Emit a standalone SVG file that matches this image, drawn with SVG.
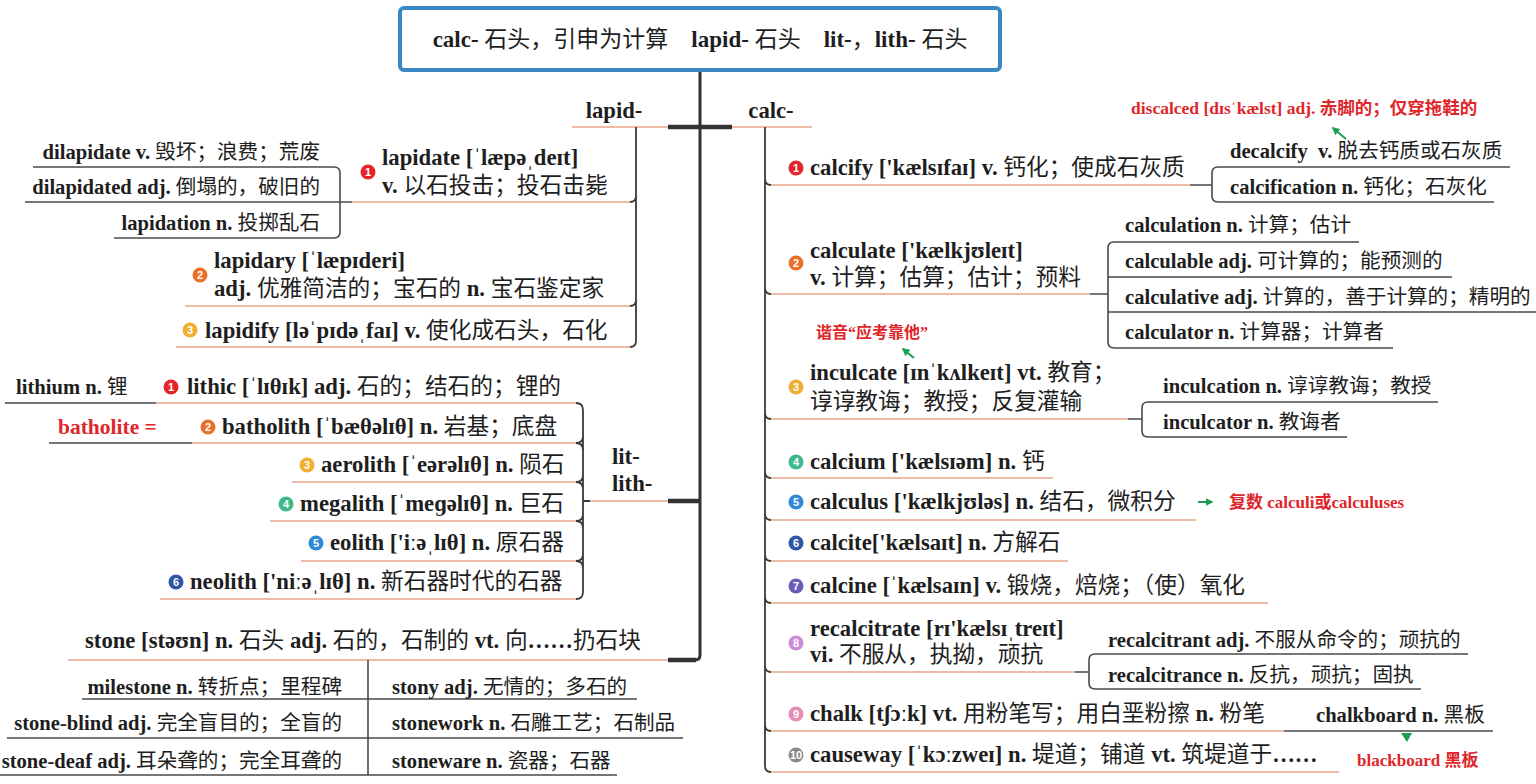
<svg xmlns="http://www.w3.org/2000/svg" width="1536" height="784" viewBox="0 0 1536 784">
<style>
text{font-family:'Liberation Serif','Noto Sans CJK SC',serif;fill:#1e1e1e}
.t{font-size:23px}
.m{font-size:22.7px}
.s{font-size:20.6px}
.b{font-weight:700}
.e{text-anchor:end}
.red{fill:#e0262b;font-weight:700}
.n{font-family:'Liberation Sans',sans-serif;font-size:11px;font-weight:700;fill:#fff;text-anchor:middle}
.ul{stroke:#efbba4;stroke-width:2;fill:none}
.dk{stroke:#3a3a3a;stroke-width:1.8;fill:none}
.gy{stroke:#4a4a4a;stroke-width:1.6;fill:none}
.tr{stroke:#333;stroke-width:3;fill:none}
.thk{stroke:#333;stroke-width:4.5;fill:none}
.ga{stroke:#1f9d55;stroke-width:2;fill:none}
</style>
<defs>
<marker id="ah" viewBox="0 0 10 10" refX="8" refY="5" markerWidth="4" markerHeight="4" orient="auto"><path d="M0,0 L10,5 L0,10 z" fill="#1f9d55"/></marker>
</defs>
<rect width="1536" height="784" fill="#fff"/>

<g id="connectors">
<path class="tr" d="M700 70 V655 Q700 660 695 660 H668"/>
<path class="thk" d="M668 127 H732 M668 501 H699 M668 660 H696"/>
<path class="ul" d="M572 127 H668 M732 127 H812 M590 501 H668"/>
<path class="dk" d="M636 127 V341 Q636 347 630 347 M636 196 Q636 202 630 202 M636 300 Q636 306 630 306"/>
<path class="ul" d="M630 202 H352 M630 306 H185 M630 347 H176"/>
<path class="gy" d="M352 202 H25 M33 167 H334 Q340 167 340 173 V232 Q340 238 334 238 H114"/>
<path class="dk" d="M583 501 H590 M576 403 Q583 403 583 410 V592 Q583 599 576 599 M576 443 Q583 443 583 436 M576 443 Q583 443 583 450 M576 482 Q583 482 583 475 M576 482 Q583 482 583 489 M576 521 Q583 521 583 514 M576 521 Q583 521 583 528 M576 561 Q583 561 583 554 M576 561 Q583 561 583 568"/>
<path class="ul" d="M156 403 H576 M192 443 H576 M292 482 H576 M270 521 H576 M301 561 H576 M160 599 H576"/>
<path class="gy" d="M5 403 H156 M49 443 H192"/>
<path class="ul" d="M68 660 H668"/>
<path class="gy" d="M368 660 V775 M82 699 H637 M7 738 H683 M0 775 H617"/>
<path class="dk" d="M765 127 V766 Q765 772 771 772 M765 179 Q765 185 771 185 M765 288 Q765 294 771 294 M765 413 Q765 419 771 419 M765 472 Q765 478 771 478 M765 514 Q765 520 771 520 M765 555 Q765 561 771 561 M765 597 Q765 603 771 603 M765 666 Q765 672 771 672 M765 725 Q765 731 771 731"/>
<path class="ul" d="M771 185 H1190 M771 294 H1090 M771 419 H1128 M771 478 H1053 M771 520 H1196 M771 561 H1068 M771 603 H1268 M771 672 H1075 M771 731 H1284 M771 772 H1339"/>
<path class="gy" d="M1190 185 H1212 M1510 167 H1218 Q1212 167 1212 173 V196 Q1212 202 1218 202 H1494"/>
<path class="gy" d="M1090 294 H1108 M1359 242 H1114 Q1108 242 1108 248 V342 Q1108 348 1114 348 H1393 M1108 277 H1452 M1108 312 H1536"/>
<path class="gy" d="M1128 419 H1142 M1438 402 H1148 Q1142 402 1142 408 V431 Q1142 437 1148 437 H1347"/>
<path class="gy" d="M1075 672 H1089 M1468 654 H1095 Q1089 654 1089 660 V683 Q1089 689 1095 689 H1421"/>
<path class="gy" d="M1284 731 H1493"/>
<path class="ga" d="M1346 139 L1333 128" marker-end="url(#ah)"/>
<path class="ga" d="M914 358 L903 349" marker-end="url(#ah)"/>
<path class="ga" d="M1198 502 L1212 502" marker-end="url(#ah)"/>
<polygon points="1401,733 1412,733 1407,742" fill="#1f9d55"/>
</g>

<g id="title">
<rect x="400" y="8" width="600" height="62" rx="4" fill="#fff" stroke="#3b89c2" stroke-width="4"/>
<text class="t" x="700" y="47" text-anchor="middle" xml:space="preserve"><tspan class="b">calc-</tspan> 石头，引申为计算    <tspan class="b">lapid-</tspan> 石头    <tspan class="b">lit-</tspan>，<tspan class="b">lith-</tspan> 石头</text>
</g>

<g id="lapid"><text class="m b" x="614" y="118" text-anchor="middle">lapid-</text></g>
<g id="calc"><text class="m b" x="771" y="118" text-anchor="middle">calc-</text></g>
<g id="lit"><text class="m b" x="612" y="464">lit-</text><text class="m b" x="612" y="491">lith-</text></g>

<g id="lapidate">
<circle cx="368" cy="172" r="7.5" fill="#e3262a"/><text class="n" x="368" y="176">1</text>
<text class="m b" x="382" y="165">lapidate [ˈlæpəˌdeɪt]</text>
<text class="m" x="382" y="193"><tspan class="b">v.</tspan> 以石投击；投石击毙</text>
</g>
<g id="dilapidate"><text class="s e" x="320" y="159"><tspan class="b">dilapidate v.</tspan> 毁坏；浪费；荒废</text></g>
<g id="dilapidated"><text class="s e" x="320" y="194"><tspan class="b">dilapidated adj.</tspan> 倒塌的，破旧的</text></g>
<g id="lapidation"><text class="s e" x="320" y="230"><tspan class="b">lapidation n.</tspan> 投掷乱石</text></g>
<g id="lapidary">
<circle cx="200" cy="275" r="7.5" fill="#e8702a"/><text class="n" x="200" y="279">2</text>
<text class="m b" x="214" y="268">lapidary [ˈlæpɪderi]</text>
<text class="m" x="214" y="296"><tspan class="b">adj.</tspan> 优雅简洁的；宝石的 <tspan class="b">n.</tspan> 宝石鉴定家</text>
</g>
<g id="lapidify">
<circle cx="190" cy="330" r="7.5" fill="#f0ae32"/><text class="n" x="190" y="334">3</text>
<text class="m" x="205" y="338"><tspan class="b">lapidify [ləˈpɪdəˌfaɪ] v.</tspan> 使化成石头，石化</text>
</g>

<g id="lithium"><text class="s" x="16" y="394"><tspan class="b">lithium n.</tspan> 锂</text></g>
<g id="lithic">
<circle cx="171" cy="387" r="7.5" fill="#e3262a"/><text class="n" x="171" y="391">1</text>
<text class="m" x="187" y="394"><tspan class="b">lithic [ˈlɪθɪk] adj.</tspan> 石的；结石的；锂的</text>
</g>
<g id="batholite"><text class="red" x="58" y="434" font-size="21.5">batholite =</text></g>
<g id="batholith">
<circle cx="208" cy="427" r="7.5" fill="#e8702a"/><text class="n" x="208" y="431">2</text>
<text class="m" x="222" y="434"><tspan class="b">batholith [ˈbæθəlɪθ] n.</tspan> 岩基；底盘</text>
</g>
<g id="aerolith">
<circle cx="307" cy="465" r="7.5" fill="#f0ae32"/><text class="n" x="307" y="469">3</text>
<text class="m" x="321" y="472"><tspan class="b">aerolith [ˈeərəlɪθ] n.</tspan> 陨石</text>
</g>
<g id="megalith">
<circle cx="286" cy="504" r="7.5" fill="#3cb88a"/><text class="n" x="286" y="508">4</text>
<text class="m" x="300" y="511"><tspan class="b">megalith [ˈmeɡəlɪθ] n.</tspan> 巨石</text>
</g>
<g id="eolith">
<circle cx="316" cy="543" r="7.5" fill="#2d8ad8"/><text class="n" x="316" y="547">5</text>
<text class="m" x="330" y="550"><tspan class="b">eolith ['iːəˌlɪθ] n.</tspan> 原石器</text>
</g>
<g id="neolith">
<circle cx="176" cy="582" r="7.5" fill="#2f56a6"/><text class="n" x="176" y="586">6</text>
<text class="m" x="190" y="589"><tspan class="b">neolith ['niːəˌlɪθ] n.</tspan> 新石器时代的石器</text>
</g>

<g id="stone"><text class="m" x="85" y="648"><tspan class="b">stone [stəʊn] n.</tspan> 石头 <tspan class="b">adj.</tspan> 石的，石制的 <tspan class="b">vt.</tspan> 向<tspan class="b">……</tspan>扔石块</text></g>
<g id="milestone"><text class="s e" x="342" y="694"><tspan class="b">milestone n.</tspan> 转折点；里程碑</text></g>
<g id="stone-blind"><text class="s e" x="342" y="730"><tspan class="b">stone-blind adj.</tspan> 完全盲目的；全盲的</text></g>
<g id="stone-deaf"><text class="s e" x="342" y="768"><tspan class="b">stone-deaf adj.</tspan> 耳朵聋的；完全耳聋的</text></g>
<g id="stony"><text class="s" x="392" y="694"><tspan class="b">stony adj.</tspan> 无情的；多石的</text></g>
<g id="stonework"><text class="s" x="392" y="730"><tspan class="b">stonework n.</tspan> 石雕工艺；石制品</text></g>
<g id="stoneware"><text class="s" x="392" y="768"><tspan class="b">stoneware n.</tspan> 瓷器；石器</text></g>

<g id="calcify">
<circle cx="796" cy="168" r="7.5" fill="#e3262a"/><text class="n" x="796" y="172">1</text>
<text class="m" x="810" y="175"><tspan class="b">calcify ['kælsɪfaɪ] v.</tspan> 钙化；使成石灰质</text>
</g>
<g id="discalced"><text class="red" x="1131" y="114" font-size="17.5">discalced [dɪsˈkælst] adj. 赤脚的；仅穿拖鞋的</text></g>
<g id="decalcify"><text class="s" x="1230" y="158"><tspan class="b">decalcify&#160; v.</tspan> 脱去钙质或石灰质</text></g>
<g id="calcification"><text class="s" x="1230" y="194"><tspan class="b">calcification n.</tspan> 钙化；石灰化</text></g>
<g id="calculate">
<circle cx="796" cy="263" r="7.5" fill="#e8702a"/><text class="n" x="796" y="267">2</text>
<text class="m b" x="810" y="258">calculate ['kælkjʊleɪt]</text>
<text class="m" x="810" y="285"><tspan class="b">v.</tspan> 计算；估算；估计；预料</text>
</g>
<g id="calculation"><text class="s" x="1125" y="232"><tspan class="b">calculation n.</tspan> 计算；估计</text></g>
<g id="calculable"><text class="s" x="1125" y="268"><tspan class="b">calculable adj.</tspan> 可计算的；能预测的</text></g>
<g id="calculative"><text class="s" x="1125" y="304"><tspan class="b">calculative adj.</tspan> 计算的，善于计算的；精明的</text></g>
<g id="calculator"><text class="s" x="1125" y="339"><tspan class="b">calculator n.</tspan> 计算器；计算者</text></g>
<g id="xieyin"><text class="red" x="816" y="338" font-size="16">谐音“应考靠他”</text></g>
<g id="inculcate">
<circle cx="796" cy="387" r="7.5" fill="#f0ae32"/><text class="n" x="796" y="391">3</text>
<text class="m" x="810" y="380"><tspan class="b">inculcate [ɪnˈkʌlkeɪt] vt.</tspan> 教育；</text>
<text class="m" x="810" y="409">谆谆教诲；教授；反复灌输</text>
</g>
<g id="inculcation"><text class="s" x="1163" y="393"><tspan class="b">inculcation n.</tspan> 谆谆教诲；教授</text></g>
<g id="inculcator"><text class="s" x="1163" y="429"><tspan class="b">inculcator n.</tspan> 教诲者</text></g>
<g id="calcium">
<circle cx="796" cy="462" r="7.5" fill="#3cb88a"/><text class="n" x="796" y="466">4</text>
<text class="m" x="810" y="469"><tspan class="b">calcium ['kælsɪəm] n.</tspan> 钙</text>
</g>
<g id="calculus">
<circle cx="796" cy="502" r="7.5" fill="#2d8ad8"/><text class="n" x="796" y="506">5</text>
<text class="m" x="810" y="509"><tspan class="b">calculus ['kælkjʊləs] n.</tspan> 结石，微积分</text>
</g>
<g id="plural"><text class="red" x="1229" y="508" font-size="17">复数 calculi或calculuses</text></g>
<g id="calcite">
<circle cx="796" cy="543" r="7.5" fill="#2f56a6"/><text class="n" x="796" y="547">6</text>
<text class="m" x="810" y="550"><tspan class="b">calcite['kælsaɪt] n.</tspan> 方解石</text>
</g>
<g id="calcine">
<circle cx="796" cy="586" r="7.5" fill="#6b5cb8"/><text class="n" x="796" y="590">7</text>
<text class="m" x="810" y="593"><tspan class="b">calcine [ˈkælsaɪn] v.</tspan> 锻烧，焙烧；（使）氧化</text>
</g>
<g id="recalcitrate">
<circle cx="796" cy="643" r="7.5" fill="#c98ad8"/><text class="n" x="796" y="647">8</text>
<text class="m b" x="810" y="636">recalcitrate [rɪ'kælsɪˌtreɪt]</text>
<text class="m" x="810" y="662"><tspan class="b">vi.</tspan> 不服从，执拗，顽抗</text>
</g>
<g id="recalcitrant"><text class="s" x="1108" y="647"><tspan class="b">recalcitrant adj.</tspan> 不服从命令的；顽抗的</text></g>
<g id="recalcitrance"><text class="s" x="1108" y="682"><tspan class="b">recalcitrance n.</tspan> 反抗，顽抗；固执</text></g>
<g id="chalk">
<circle cx="796" cy="714" r="7.5" fill="#e38db5"/><text class="n" x="796" y="718">9</text>
<text class="m" x="810" y="721"><tspan class="b">chalk [tʃɔːk] vt.</tspan> 用粉笔写；用白垩粉擦 <tspan class="b">n.</tspan> 粉笔</text>
</g>
<g id="chalkboard"><text class="s" x="1316" y="722"><tspan class="b">chalkboard n.</tspan> 黑板</text></g>
<g id="causeway">
<circle cx="796" cy="755" r="7.5" fill="#8a8a8a"/><text class="n" x="796" y="758.5" font-size="9">10</text>
<text class="m" x="810" y="762"><tspan class="b">causeway [ˈkɔːzweɪ] n.</tspan> 堤道；铺道 <tspan class="b">vt.</tspan> 筑堤道于<tspan class="b">……</tspan></text>
</g>
<g id="blackboard"><text class="red" x="1357" y="766" font-size="17">blackboard 黑板</text></g>
</svg>
